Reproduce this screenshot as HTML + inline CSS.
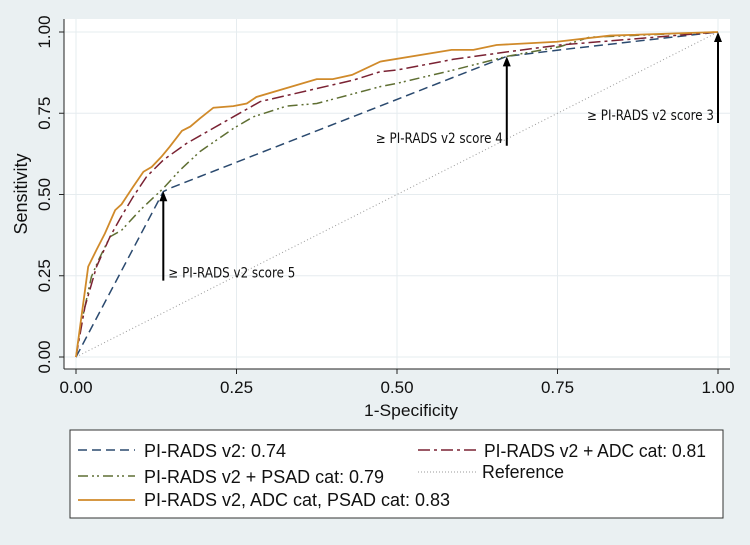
<!DOCTYPE html>
<html><head><meta charset="utf-8"><style>
html,body{margin:0;padding:0;background:#eaf0f2;}
svg{display:block;font-family:"Liberation Sans",sans-serif;}
</style></head><body>
<svg id="chart" width="750" height="545" viewBox="0 0 750 545">
<rect x="0" y="0" width="750" height="545" fill="#eaf0f2"/>
<rect x="64" y="19" width="666" height="350" fill="#ffffff"/>
<g id="grid"></g>
<g id="series"></g>
<g id="annots"></g>
<line x1="64" y1="19" x2="64" y2="369" stroke="#222" stroke-width="1"/>
<line x1="64" y1="369" x2="730" y2="369" stroke="#222" stroke-width="1"/>
<g id="axes"></g>
<text x="411" y="416" font-size="17" textLength="94" lengthAdjust="spacingAndGlyphs" text-anchor="middle" fill="#111">1-Specificity</text>
<text transform="translate(27,194) rotate(-90)" font-size="18" text-anchor="middle" fill="#111">Sensitivity</text>
<g>
<rect x="70" y="430" width="653" height="88" fill="#fff" stroke="#333" stroke-width="1"/>
<g>
<line x1="78" y1="450" x2="135" y2="450" stroke="#2b4a6f" stroke-width="1.5" stroke-dasharray="9,5"/>
<text x="144" y="457" font-size="18" textLength="142" lengthAdjust="spacingAndGlyphs" fill="#111">PI-RADS v2: 0.74</text></g>
<g>
<line x1="418" y1="450" x2="476" y2="450" stroke="#7a2233" stroke-width="1.5" stroke-dasharray="12,4,3,4"/>
<text x="484" y="457" font-size="18" textLength="222" lengthAdjust="spacingAndGlyphs" fill="#111">PI-RADS v2 + ADC cat: 0.81</text></g>
<g>
<line x1="78" y1="476" x2="135" y2="476" stroke="#5f6f33" stroke-width="1.5" stroke-dasharray="10,4,2,3,2,4"/>
<text x="144" y="483" font-size="18" textLength="240" lengthAdjust="spacingAndGlyphs" fill="#111">PI-RADS v2 + PSAD cat: 0.79</text></g>
<g>
<line x1="418" y1="472" x2="476" y2="472" stroke="#999" stroke-width="1" stroke-dasharray="1,2"/>
<text x="482" y="478" font-size="18" textLength="82" lengthAdjust="spacingAndGlyphs" fill="#111">Reference</text></g>
<g>
<line x1="78" y1="500" x2="135" y2="500" stroke="#d08a2a" stroke-width="1.8"/>
<text x="144" y="506" font-size="18" textLength="306" lengthAdjust="spacingAndGlyphs" fill="#111">PI-RADS v2, ADC cat, PSAD cat: 0.83</text></g>
</g>
</svg>
<script>
const ticks = [0, 0.25, 0.5, 0.75, 1];
const tickLabels = ["0.00", "0.25", "0.50", "0.75", "1.00"];
const blueX = [0, 0.136, 0.146, 0.458, 0.671, 0.754, 1];
const blueY = [0, 0.509, 0.519, 0.76, 0.925, 0.945, 1];
const redX = [0, 0.014, 0.032, 0.053, 0.069, 0.089, 0.11, 0.136, 0.172, 0.245, 0.287, 0.307, 0.432, 0.474, 0.5, 0.588, 0.676, 0.754, 1];
const redY = [0, 0.155, 0.278, 0.37, 0.427, 0.493, 0.555, 0.606, 0.657, 0.739, 0.786, 0.795, 0.852, 0.878, 0.883, 0.916, 0.94, 0.96, 1];
const greenX = [0, 0.006, 0.024, 0.035, 0.053, 0.071, 0.1, 0.136, 0.162, 0.193, 0.245, 0.276, 0.328, 0.375, 0.474, 0.5, 0.588, 0.671, 0.754, 0.8, 1];
const greenY = [0, 0.083, 0.247, 0.298, 0.37, 0.39, 0.452, 0.519, 0.575, 0.632, 0.703, 0.739, 0.772, 0.78, 0.832, 0.842, 0.883, 0.925, 0.955, 0.984, 1];
const orangeX = [0, 0.019, 0.032, 0.045, 0.061, 0.071, 0.089, 0.105, 0.118, 0.133, 0.146, 0.165, 0.178, 0.193, 0.214, 0.245, 0.266, 0.281, 0.375, 0.4, 0.43, 0.474, 0.585, 0.619, 0.655, 0.749, 0.832, 1];
const orangeY = [0, 0.278, 0.33, 0.38, 0.452, 0.47, 0.524, 0.57, 0.585, 0.616, 0.647, 0.696, 0.709, 0.734, 0.767, 0.772, 0.78, 0.8, 0.855, 0.855, 0.868, 0.909, 0.945, 0.945, 0.96, 0.97, 0.989, 1];
const refX = [0, 1];
const refY = [0, 1];
const arrowX = [0.136, 0.671, 1];
const arrowFrom = [0.235, 0.65, 0.72];
const arrowTo = [0.51, 0.925, 1];
const arrowLabels = ["\u2265 PI-RADS v2 score 5", "\u2265 PI-RADS v2 score 4", "\u2265 PI-RADS v2 score 3"];

const NS = "http://www.w3.org/2000/svg";
const sx = v => 76 + v * 642;
const sy = v => 357 - v * 325;
function mk(tag, attrs, parent) {
  const e = document.createElementNS(NS, tag);
  for (const k in attrs) e.setAttribute(k, attrs[k]);
  parent.appendChild(e);
  return e;
}
const grid = document.getElementById('grid');
const axes = document.getElementById('axes');
ticks.forEach((t, i) => {
  const gx = mk('line', {x1: sx(t), x2: sx(t), y1: 19, y2: 369, stroke: '#e6ecef', 'stroke-width': 1}, grid);
  
  
  const gy = mk('line', {x1: 64, x2: 730, y1: sy(t), y2: sy(t), stroke: '#e6ecef', 'stroke-width': 1}, grid);
  
  
  const tx = mk('line', {x1: sx(t), x2: sx(t), y1: 369, y2: 374, stroke: '#222'}, axes);
  
  
  const ty = mk('line', {x1: 59, x2: 64, y1: sy(t), y2: sy(t), stroke: '#222'}, axes);
  
  
  const lx = mk('text', {x: sx(t), y: 393, 'font-size': 17, 'text-anchor': 'middle', fill: '#111'}, axes);
  lx.textContent = tickLabels[i];
  
  
  const ly = mk('text', {transform: `translate(50,${sy(t)}) rotate(-90)`, 'font-size': 17, 'text-anchor': 'middle', fill: '#111'}, axes);
  ly.textContent = tickLabels[i];
  
  
});
const series = document.getElementById('series');
function pts(xs, ys) { return xs.map((x, i) => sx(x) + ',' + sy(ys[i])).join(' '); }
const ref = mk('polyline', {points: pts(refX, refY), fill: 'none', stroke: '#999', 'stroke-width': 1, 'stroke-dasharray': '1,2.5'}, series);


const b = mk('polyline', {points: pts(blueX, blueY), fill: 'none', stroke: '#2b4a6f', 'stroke-width': 1.5, 'stroke-dasharray': '9,5'}, series);


const g = mk('polyline', {points: pts(greenX, greenY), fill: 'none', stroke: '#5f6f33', 'stroke-width': 1.5, 'stroke-dasharray': '10,4,2,3,2,4'}, series);


const r = mk('polyline', {points: pts(redX, redY), fill: 'none', stroke: '#7a2233', 'stroke-width': 1.5, 'stroke-dasharray': '12,4,3,4'}, series);


const o = mk('polyline', {points: pts(orangeX, orangeY), fill: 'none', stroke: '#d08a2a', 'stroke-width': 1.8}, series);


const an = document.getElementById('annots');
arrowX.forEach((ax, i) => {
  const x = sx(ax), y1 = sy(arrowFrom[i]), y2 = sy(arrowTo[i]);
  const l = mk('line', {x1: x, x2: x, y1: y1, y2: y2 + 8, stroke: '#000', 'stroke-width': 2}, an);
  
  
  const h = mk('polygon', {points: `${x},${y2} ${x-4},${y2+10} ${x+4},${y2+10}`, fill: '#000'}, an);
  
  
  const first = i === 0;
  const t = mk('text', {x: first ? x + 5 : x - 4, y: y1 - 3, 'font-size': 14, textLength: 127, lengthAdjust: 'spacingAndGlyphs', 'text-anchor': first ? 'start' : 'end', fill: '#111', 'font-family': '"DejaVu Sans", sans-serif'}, an);
  t.textContent = arrowLabels[i];
  
  
});
</script>
</body></html>
